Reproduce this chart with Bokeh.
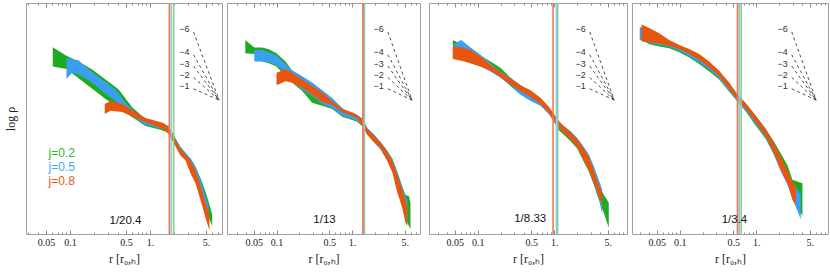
from bokeh.plotting import figure
from bokeh.models import (FixedTicker, LogAxis, Span, Label, Range1d,
                          CustomJSTickFormatter, ColumnDataSource)
from bokeh.layouts import row
from bokeh.embed import file_html
from bokeh.resources import INLINE

# ---------------- data ----------------
ratio_labels = ["1/20.4", "1/13", "1/8.33", "1/3.4"]
j_labels = ["j=0.2", "j=0.5", "j=0.8"]
x_ticks = [0.05, 0.1, 0.5, 1.0, 5.0]
x_minor = [0.02, 0.03, 0.04, 0.06, 0.07, 0.08, 0.09, 0.2, 0.3, 0.4, 0.6, 0.7,
           0.8, 0.9, 2, 3, 4, 6, 7, 8, 9]
slopes = [6, 4, 3, 2, 1]

# vertical marker radii (green, blue, orange) per panel
vlines = [[1.95, 1.82, 1.72], [1.44, 1.41, 1.37], [1.09, 1.05, 0.95], [0.625, 0.589, 0.56]]
# start radius of the slope guides per panel
slope_r0 = [3.45, 2.94, 2.86, 2.86]
# position of the ratio label per panel (r, log rho)
ratio_pos_r = [0.487, 0.426, 0.477, 0.511]
ratio_pos_y = [0.42, 0.44, 0.47, 0.44]
# legend positions (r, log rho) in panel 1
legend_r = 0.0531
legend_y = [2.28, 1.89, 1.50]

# ---- panel 1 ----
p1_g_r = [0.060, 0.089, 0.126, 0.187, 0.274, 0.40, 0.59, 0.866, 1.33, 1.68, 1.94, 2.37, 2.74, 3.16, 3.65, 4.22, 4.87, 5.46, 5.90]
p1_g_hi = [5.27, 5.03, 4.87, 4.64, 4.36, 4.08, 3.58, 3.25, 3.11, 3.02, 2.79, 2.44, 2.28, 2.14, 1.91, 1.58, 1.21, 0.84, 0.56]
p1_g_lo = [4.73, 4.66, 4.40, 4.10, 3.81, 3.55, 3.30, 3.05, 2.95, 2.86, 2.60, 2.23, 2.14, 1.81, 1.58, 1.21, 0.80, 0.43, 0.24]
p1_b_r = [0.089, 0.105, 0.126, 0.17, 0.249, 0.365, 0.487, 0.65, 0.866, 1.33, 1.68, 1.94, 2.37, 2.74, 3.16, 3.65, 4.22, 4.87, 5.31]
p1_b_hi = [4.96, 4.94, 4.90, 4.64, 4.36, 4.08, 3.71, 3.44, 3.22, 3.14, 3.06, 2.81, 2.47, 2.31, 2.14, 1.91, 1.53, 1.08, 0.81]
p1_b_lo = [4.38, 4.55, 4.50, 4.33, 4.04, 3.76, 3.48, 3.25, 3.08, 2.99, 2.92, 2.65, 2.28, 2.17, 1.86, 1.64, 1.25, 0.75, 0.42]
p1_o_r = [0.268, 0.316, 0.443, 0.65, 0.866, 1.155, 1.45, 1.68, 1.94, 2.37, 2.74, 3.16, 3.65, 4.22, 4.87, 5.46]
p1_o_hi = [3.67, 3.76, 3.67, 3.44, 3.28, 3.20, 3.14, 3.02, 2.77, 2.42, 2.25, 2.08, 1.81, 1.36, 0.89, 0.53]
p1_o_lo = [3.39, 3.48, 3.45, 3.28, 3.16, 3.05, 2.97, 2.83, 2.58, 2.22, 2.08, 1.72, 1.44, 0.97, 0.47, 0.11]

# ---- panel 2 ----
p2_g_r = [0.038, 0.050, 0.064, 0.078, 0.0985, 0.130, 0.159, 0.216, 0.292, 0.397, 0.538, 0.73, 0.99, 1.15, 1.37, 1.57, 1.92, 2.35, 2.88, 3.36, 3.91, 4.55, 5.03, 5.57, 5.86]
p2_g_hi = [5.47, 5.26, 5.26, 5.21, 5.10, 4.87, 4.61, 4.36, 4.18, 3.96, 3.71, 3.46, 3.39, 3.36, 3.25, 2.97, 2.79, 2.60, 2.36, 2.14, 1.78, 1.36, 1.11, 1.08, 0.89]
p2_g_lo = [5.10, 5.08, 4.87, 4.82, 4.73, 4.45, 4.27, 4.04, 3.71, 3.62, 3.53, 3.31, 3.22, 3.17, 3.03, 2.81, 2.60, 2.42, 2.09, 1.81, 1.31, 0.83, 0.47, 0.24, 0.15]
p2_b_r = [0.050, 0.064, 0.078, 0.0985, 0.130, 0.159, 0.216, 0.292, 0.397, 0.538, 0.73, 0.99, 1.15, 1.37, 1.57, 1.92, 2.35, 2.88, 3.36, 3.91, 4.55, 5.03, 5.35]
p2_b_hi = [5.19, 5.19, 5.13, 5.04, 4.80, 4.62, 4.45, 4.28, 4.06, 3.84, 3.56, 3.39, 3.36, 3.25, 3.00, 2.82, 2.61, 2.36, 2.14, 1.75, 1.33, 1.06, 0.94]
p2_b_lo = [4.87, 4.87, 4.85, 4.76, 4.57, 4.31, 4.08, 3.90, 3.67, 3.56, 3.34, 3.25, 3.19, 3.06, 2.83, 2.61, 2.39, 2.08, 1.81, 1.28, 0.81, 0.42, 0.25]
p2_o_r = [0.0985, 0.130, 0.159, 0.216, 0.292, 0.397, 0.538, 0.73, 0.99, 1.15, 1.37, 1.57, 1.92, 2.35, 2.88, 3.36, 3.91, 4.55, 5.03, 5.30]
p2_o_hi = [4.55, 4.66, 4.55, 4.36, 4.18, 3.99, 3.76, 3.53, 3.44, 3.37, 3.22, 2.97, 2.79, 2.58, 2.33, 2.08, 1.69, 1.25, 0.94, 0.75]
p2_o_lo = [4.20, 4.31, 4.27, 4.13, 3.94, 3.73, 3.65, 3.44, 3.34, 3.27, 3.03, 2.81, 2.60, 2.42, 2.08, 1.75, 1.19, 0.75, 0.33, 0.25]

# ---- panel 3 ----
p3_g_r = [0.0466, 0.060, 0.0794, 0.107, 0.145, 0.195, 0.264, 0.357, 0.482, 0.650, 0.835, 0.97, 1.13, 1.31, 1.60, 1.96, 2.39, 2.78, 3.23, 3.75, 4.36, 5.07]
p3_g_hi = [5.47, 5.35, 5.19, 5.04, 4.87, 4.69, 4.41, 4.20, 4.02, 3.83, 3.59, 3.39, 3.19, 3.02, 2.88, 2.69, 2.44, 2.20, 1.91, 1.40, 1.12, 0.89]
p3_g_lo = [4.96, 4.94, 4.85, 4.76, 4.61, 4.43, 4.18, 3.94, 3.78, 3.65, 3.41, 3.19, 2.93, 2.81, 2.63, 2.42, 2.05, 1.77, 1.40, 0.98, 0.61, 0.19]
p3_b_r = [0.048, 0.060, 0.0794, 0.107, 0.145, 0.195, 0.264, 0.357, 0.482, 0.650, 0.835, 0.97, 1.13, 1.31, 1.60, 1.96, 2.39, 2.78, 3.23, 3.75, 4.16]
p3_b_hi = [5.35, 5.47, 5.26, 5.06, 4.82, 4.59, 4.41, 4.18, 4.04, 3.83, 3.58, 3.37, 3.19, 3.06, 2.91, 2.72, 2.46, 2.26, 1.91, 1.54, 1.26]
p3_b_lo = [4.96, 4.92, 4.82, 4.73, 4.59, 4.41, 4.20, 3.94, 3.76, 3.62, 3.39, 3.19, 3.00, 2.85, 2.67, 2.46, 2.09, 1.81, 1.44, 1.03, 0.56]
p3_o_r = [0.0466, 0.060, 0.0794, 0.107, 0.145, 0.195, 0.264, 0.357, 0.482, 0.650, 0.835, 0.97, 1.13, 1.31, 1.60, 1.96, 2.39, 2.78, 3.23, 3.75, 4.16]
p3_o_hi = [5.29, 5.27, 5.19, 5.01, 4.78, 4.57, 4.39, 4.20, 4.06, 3.85, 3.59, 3.39, 3.19, 3.04, 2.88, 2.69, 2.42, 2.19, 1.81, 1.40, 1.17]
p3_o_lo = [4.94, 4.89, 4.82, 4.73, 4.61, 4.43, 4.22, 4.04, 3.87, 3.67, 3.41, 3.22, 3.02, 2.85, 2.67, 2.46, 2.09, 1.81, 1.44, 1.08, 0.80]

# ---- panel 4 ----
p4_g_r = [0.0297, 0.0394, 0.0532, 0.0718, 0.097, 0.131, 0.177, 0.239, 0.323, 0.436, 0.56, 0.718, 0.97, 1.31, 1.69, 2.06, 2.52, 2.92, 3.40, 3.95]
p4_g_hi = [5.80, 5.75, 5.59, 5.43, 5.29, 5.17, 5.04, 4.82, 4.57, 4.24, 3.94, 3.67, 3.34, 2.97, 2.60, 2.28, 1.95, 1.54, 1.49, 1.44]
p4_g_lo = [5.50, 5.35, 5.29, 5.24, 5.13, 4.98, 4.80, 4.59, 4.36, 4.02, 3.74, 3.46, 3.06, 2.69, 2.23, 1.81, 1.49, 1.12, 0.75, 0.52]
p4_b_r = [0.0297, 0.0394, 0.0532, 0.0718, 0.097, 0.131, 0.177, 0.239, 0.323, 0.436, 0.56, 0.718, 0.97, 1.31, 1.69, 2.06, 2.52, 2.92, 3.40, 3.75]
p4_b_hi = [5.84, 5.75, 5.61, 5.44, 5.31, 5.19, 5.06, 4.85, 4.59, 4.27, 3.94, 3.69, 3.34, 2.97, 2.54, 2.17, 1.80, 1.49, 1.26, 1.12]
p4_b_lo = [5.47, 5.38, 5.33, 5.28, 5.17, 5.01, 4.85, 4.64, 4.39, 4.04, 3.74, 3.48, 3.11, 2.72, 2.23, 1.77, 1.40, 1.03, 0.66, 0.43]
p4_o_r = [0.0313, 0.0394, 0.0532, 0.0718, 0.097, 0.131, 0.177, 0.239, 0.323, 0.436, 0.56, 0.718, 0.97, 1.31, 1.69, 2.06, 2.52, 2.92, 3.23]
p4_o_hi = [5.91, 5.81, 5.66, 5.47, 5.33, 5.22, 5.08, 4.87, 4.61, 4.27, 3.94, 3.69, 3.34, 2.97, 2.56, 2.19, 1.81, 1.49, 1.35]
p4_o_lo = [5.43, 5.41, 5.37, 5.31, 5.22, 5.08, 4.92, 4.70, 4.45, 4.08, 3.78, 3.53, 3.16, 2.76, 2.28, 1.81, 1.44, 0.98, 0.81]

panels = [
    [(p1_g_r, p1_g_lo, p1_g_hi), (p1_b_r, p1_b_lo, p1_b_hi), (p1_o_r, p1_o_lo, p1_o_hi)],
    [(p2_g_r, p2_g_lo, p2_g_hi), (p2_b_r, p2_b_lo, p2_b_hi), (p2_o_r, p2_o_lo, p2_o_hi)],
    [(p3_g_r, p3_g_lo, p3_g_hi), (p3_b_r, p3_b_lo, p3_b_hi), (p3_o_r, p3_o_lo, p3_o_hi)],
    [(p4_g_r, p4_g_lo, p4_g_hi), (p4_b_r, p4_b_lo, p4_b_hi), (p4_o_r, p4_o_lo, p4_o_hi)],
]

# ---------------- styling / layout ----------------
band_colors = ["#1fab1f", "#3b9eee", "#e8560e"]
vline_colors = ["#84d484", "#94c4f0", "#ec7a46"]
text_colors = ["#2cb82c", "#45a6f0", "#e85a18"]
x_ranges = [(0.0282, 7.94), (0.0221, 7.95), (0.0231, 8.9), (0.0238, 8.65)]
widths = [225, 199, 205, 200]
borders = [(26, 3), (2, 4), (5, 2), (3, 1)]
H = 268
Y_RANGE = (0.0, 6.5)
GUIDE_SPAN = 0.32      # decades in r covered by each slope guide
GUIDE_END_Y = 3.78     # common end level of the guides

tick_fmt = "return tick >= 1 ? Math.round(tick) + '.' : tick.toString();"

figs = []
for i in range(4):
    bl, br = borders[i]
    p = figure(width=widths[i], height=H, x_axis_type="log",
               x_range=Range1d(*x_ranges[i]), y_range=Range1d(*Y_RANGE),
               output_backend="svg", toolbar_location=None,
               y_axis_location="left" if i == 0 else None,
               min_border_left=bl, min_border_right=br,
               min_border_top=3, min_border_bottom=31)
    p.grid.visible = False
    p.outline_line_color = "#a0a0a0"
    p.outline_line_width = 1

    ax = p.xaxis[0]
    ax.ticker = FixedTicker(ticks=x_ticks, minor_ticks=x_minor)
    ax.formatter = CustomJSTickFormatter(code=tick_fmt)
    ax.axis_line_color = None
    ax.major_tick_in = 4
    ax.major_tick_out = 0
    ax.minor_tick_in = 2
    ax.minor_tick_out = 0
    ax.major_tick_line_color = "#8a8a8a"
    ax.minor_tick_line_color = "#8a8a8a"
    ax.major_label_text_font = "Liberation Serif"
    ax.major_label_text_font_size = "10px"
    ax.major_label_text_color = "#222222"
    ax.major_label_standoff = 4
    ax.axis_label = "r [r\u2080,\u2095]"
    ax.axis_label_text_font = "Liberation Serif"
    ax.axis_label_text_font_size = "12px"
    ax.axis_label_text_font_style = "normal"
    ax.axis_label_text_color = "#222222"
    ax.axis_label_standoff = 3

    top = LogAxis(ticker=FixedTicker(ticks=x_ticks, minor_ticks=x_minor),
                  formatter=CustomJSTickFormatter(code="return '';"),
                  axis_line_color=None, major_tick_in=4, major_tick_out=0,
                  minor_tick_in=2, minor_tick_out=0,
                  major_tick_line_color="#8a8a8a", minor_tick_line_color="#8a8a8a",
                  major_label_text_font_size="0px", major_label_standoff=0)
    p.add_layout(top, "above")

    if i == 0:
        ya = p.yaxis[0]
        ya.ticker = FixedTicker(ticks=[])
        ya.axis_line_color = None
        ya.major_label_text_font_size = "0px"
        ya.major_tick_out = 0
        ya.major_tick_in = 0
        ya.minor_tick_out = 0
        ya.major_label_standoff = 0
        ya.axis_label = "log \u03c1"
        ya.axis_label_text_font = "Liberation Serif"
        ya.axis_label_text_font_size = "12px"
        ya.axis_label_text_font_style = "normal"
        ya.axis_label_text_color = "#222222"
        ya.axis_label_standoff = 9

    # bands
    for k, (r, lo, hi) in enumerate(panels[i]):
        p.varea(x=r, y1=lo, y2=hi, fill_color=band_colors[k], fill_alpha=1.0)

    # vertical markers
    for k in range(3):
        p.add_layout(Span(location=vlines[i][k], dimension="height",
                          line_color=vline_colors[k], line_width=1.6))

    # slope guides
    r0 = slope_r0[i]
    r1 = r0 * 10 ** GUIDE_SPAN
    ys = [GUIDE_END_Y + s * GUIDE_SPAN for s in slopes]
    src = ColumnDataSource(dict(x0=[r0] * len(slopes), y0=ys,
                                x1=[r1] * len(slopes), y1=[GUIDE_END_Y] * len(slopes),
                                lab=["\u2212%d" % s for s in slopes],
                                ly=[y + 0.07 for y in ys]))
    p.segment(x0="x0", y0="y0", x1="x1", y1="y1", source=src,
              line_color="#222222", line_width=0.8, line_dash="3 3")
    p.text(x="x0", y="ly", text="lab", source=src, x_offset=-4,
           text_align="right", text_baseline="middle",
           text_font_size="9px", text_color="#333333")

    # ratio label
    p.add_layout(Label(x=ratio_pos_r[i], y=ratio_pos_y[i], text=ratio_labels[i],
                       text_align="center", text_baseline="middle",
                       text_font="Liberation Sans", text_font_size="11.5px",
                       text_color="#111111"))

    if i == 0:
        for k, (lab, yy) in enumerate(zip(j_labels, legend_y)):
            p.add_layout(Label(x=legend_r, y=yy, text=lab,
                               text_align="left", text_baseline="middle",
                               text_font="Liberation Sans", text_font_size="12px",
                               text_color=text_colors[k]))
    figs.append(p)

layout = row(*figs)
open("out.html", "w").write(file_html(layout, INLINE))
